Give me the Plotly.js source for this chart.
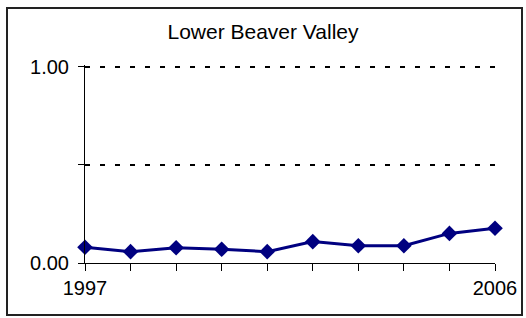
<!DOCTYPE html>
<html>
<head>
<meta charset="utf-8">
<script src="https://cdn.plot.ly/plotly-3.0.1.min.js"></script>
<style>
html,body{margin:0;padding:0;background:#fff;}
#chart{width:526px;height:318px;}
</style>
</head>
<body>
<div id="chart"></div>
<script>
const years = [1997, 1998, 1999, 2000, 2001, 2002, 2003, 2004, 2005, 2006];
const values = [0.08, 0.058, 0.078, 0.07, 0.058, 0.109, 0.088, 0.088, 0.151, 0.177];
const xTickText = ["1997", "", "", "", "", "", "", "", "", "2006"];
const yTickVals = [0, 0.5, 1];
const yTickText = ["0.00", "", "1.00"];
const chartTitle = "Lower Beaver Valley";

const font = {family: "Arial, 'Liberation Sans', sans-serif", size: 20, color: "#000"};
const titleFont = {family: "Arial, 'Liberation Sans', sans-serif", size: 21, color: "#000"};

const trace = {
  x: years,
  y: values,
  type: "scatter",
  mode: "lines+markers",
  line: {color: "#000080", width: 3},
  marker: {symbol: "diamond", size: 12, color: "#000080"},
  cliponaxis: false,
  hoverinfo: "skip"
};

const layout = {
  width: 526,
  height: 318,
  margin: {l: 85, r: 31, t: 65, b: 55},
  paper_bgcolor: "#fff",
  plot_bgcolor: "#fff",
  showlegend: false,
  font: font,
  title: {text: chartTitle, font: titleFont, x: 0.5, xanchor: "center", y: 0.9, yanchor: "middle", yref: "container"},
  xaxis: {
    range: [years[0], years[years.length - 1]],
    tickvals: years,
    ticktext: xTickText,
    ticks: "outside",
    ticklen: 7,
    tickwidth: 1,
    tickcolor: "#000",
    showline: true,
    linecolor: "#000",
    linewidth: 1,
    showgrid: false,
    zeroline: false,
    tickfont: font,
    fixedrange: true
  },
  yaxis: {
    range: [0, 1.01],
    tickvals: yTickVals,
    ticktext: yTickText,
    ticks: "outside",
    ticklen: 6,
    tickwidth: 1,
    tickcolor: "#000",
    showline: true,
    linecolor: "#000",
    linewidth: 1,
    showgrid: true,
    gridcolor: "#000",
    gridwidth: 2,
    griddash: "5px,10px",
    zeroline: false,
    tickfont: font,
    ticklabelstandoff: 5,
    fixedrange: true
  },
  shapes: [{
    type: "rect",
    xref: "paper", yref: "paper",
    x0: (7 - 85) / 410, x1: (522 - 85) / 410,
    y0: (263 - 315) / 198, y1: (263 - 8) / 198,
    line: {color: "#222", width: 2},
    fillcolor: "rgba(0,0,0,0)",
    layer: "below"
  }]
};

Plotly.newPlot("chart", [trace], layout, {displayModeBar: false, staticPlot: true});
</script>
</body>
</html>
